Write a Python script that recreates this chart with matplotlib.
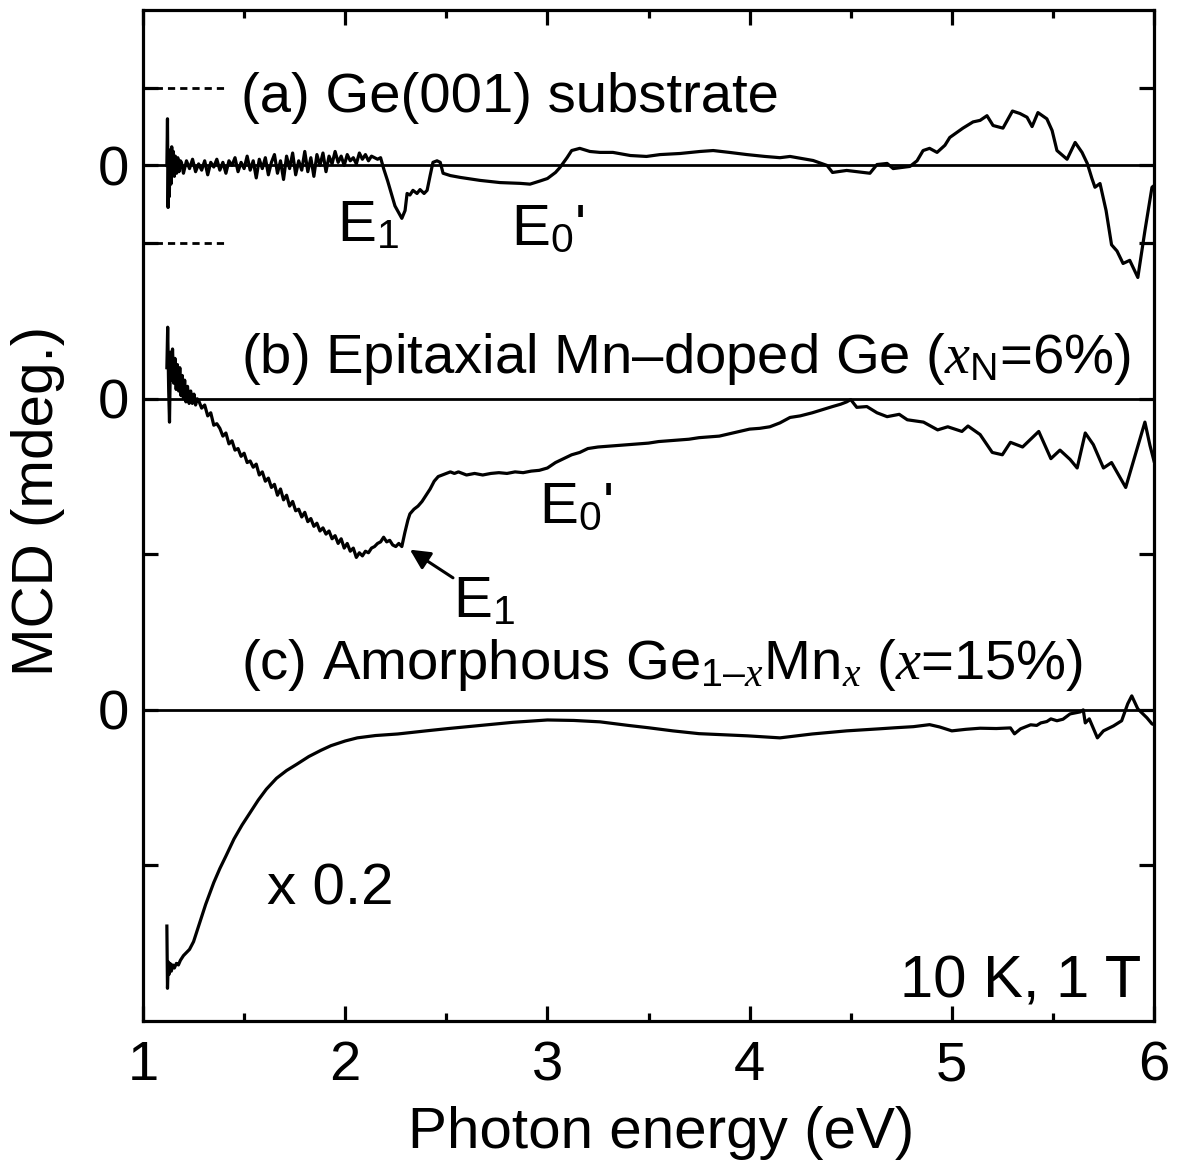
import matplotlib
matplotlib.use('Agg')
import matplotlib.pyplot as plt

plt.rcParams['font.family'] = ['Liberation Sans', 'DejaVu Sans']
plt.rcParams['mathtext.fontset'] = 'custom'
plt.rcParams['mathtext.rm'] = 'Liberation Sans'
plt.rcParams['mathtext.sf'] = 'Liberation Sans'
plt.rcParams['mathtext.it'] = 'Liberation Serif:italic'
plt.rcParams['mathtext.bf'] = 'Liberation Sans:bold'

# ---------------- data: (photon energy eV, MCD in plot units rel. to zero line) -------------
curve_a = [
    (1.118, 0.00), (1.121, 0.30), (1.124, -0.27), (1.127, 0.04), (1.130, -0.20),
    (1.134, 0.10), (1.138, -0.12), (1.142, 0.12), (1.146, -0.06), (1.150, 0.09),
    (1.155, -0.07), (1.160, 0.06), (1.166, -0.05), (1.172, 0.05), (1.178, -0.04),
    (1.185, 0.03),
    (1.19, 0.02), (1.20, -0.05), (1.215, 0.03), (1.23, -0.02), (1.245, 0.04),
    (1.26, -0.04), (1.275, 0.01), (1.29, -0.03), (1.305, 0.03), (1.32, -0.06),
    (1.335, 0.02), (1.35, -0.01), (1.365, 0.04), (1.38, -0.03), (1.395, 0.02),
    (1.41, -0.05), (1.425, 0.03), (1.44, 0.00), (1.455, 0.05), (1.47, -0.04),
    (1.485, 0.02), (1.50, -0.02), (1.515, 0.06), (1.53, -0.03), (1.545, 0.03),
    (1.56, -0.08), (1.575, 0.04), (1.59, -0.02), (1.605, 0.05), (1.62, -0.06),
    (1.635, 0.02), (1.65, 0.07), (1.665, -0.05), (1.68, 0.03), (1.695, -0.09),
    (1.71, 0.06), (1.725, -0.02), (1.74, 0.08), (1.755, -0.06), (1.77, 0.03),
    (1.785, -0.03), (1.80, 0.09), (1.815, -0.04), (1.83, 0.05), (1.845, -0.07),
    (1.86, 0.07), (1.875, 0.00), (1.89, 0.08), (1.905, -0.04), (1.92, 0.06),
    (1.935, 0.01), (1.95, 0.09), (1.965, 0.02), (1.98, 0.06), (1.995, 0.00),
    (2.01, 0.07), (2.025, 0.03), (2.04, 0.05), (2.055, 0.01), (2.07, 0.08),
    (2.085, 0.04), (2.10, 0.07), (2.115, 0.03), (2.13, 0.06), (2.145, 0.05),
    (2.16, 0.04), (2.175, 0.05),
    (2.19, -0.02), (2.21, -0.10), (2.246, -0.26), (2.28, -0.34), (2.296, -0.29),
    (2.306, -0.18), (2.32, -0.19), (2.335, -0.16), (2.355, -0.18), (2.37, -0.155),
    (2.39, -0.18), (2.405, -0.16), (2.42, -0.065), (2.434, 0.02), (2.454, 0.03),
    (2.47, 0.02), (2.484, -0.05), (2.52, -0.065), (2.57, -0.077), (2.667, -0.096),
    (2.766, -0.11), (2.865, -0.115), (2.914, -0.12), (2.963, -0.10), (3.00, -0.084),
    (3.04, -0.045), (3.062, -0.013), (3.097, 0.05), (3.12, 0.096), (3.16, 0.11),
    (3.21, 0.09), (3.26, 0.084), (3.324, 0.084), (3.41, 0.064), (3.49, 0.058),
    (3.557, 0.07), (3.656, 0.077), (3.755, 0.09), (3.82, 0.096), (3.90, 0.084),
    (3.987, 0.07), (4.076, 0.058), (4.15, 0.05), (4.20, 0.058), (4.314, 0.032),
    (4.383, 0.0), (4.41, -0.045), (4.48, -0.032), (4.595, -0.05), (4.63, 0.006),
    (4.68, 0.013), (4.71, -0.02), (4.793, -0.006), (4.828, 0.03), (4.858, 0.096),
    (4.89, 0.11), (4.927, 0.084), (4.966, 0.13), (4.99, 0.18), (5.055, 0.24),
    (5.105, 0.28), (5.14, 0.29), (5.174, 0.32), (5.204, 0.257), (5.253, 0.24),
    (5.30, 0.35), (5.337, 0.334), (5.372, 0.31), (5.397, 0.25), (5.426, 0.34),
    (5.47, 0.30), (5.496, 0.225), (5.52, 0.096), (5.57, 0.04), (5.61, 0.148),
    (5.644, 0.084), (5.67, 0.013), (5.693, -0.084), (5.708, -0.14), (5.733, -0.116),
    (5.763, -0.29), (5.79, -0.51), (5.817, -0.55), (5.847, -0.63), (5.88, -0.61),
    (5.92, -0.72), (5.955, -0.42), (5.99, -0.14), (6.00, -0.13),
]

curve_b = [
    (1.118, 0.20), (1.122, 0.46), (1.127, 0.05), (1.131, -0.15), (1.136, 0.30),
    (1.141, 0.12), (1.146, 0.32), (1.152, 0.10), (1.158, 0.26), (1.164, 0.06),
    (1.170, 0.22), (1.176, 0.05), (1.182, 0.20), (1.188, 0.02), (1.194, 0.15),
    (1.200, 0.00), (1.206, 0.12), (1.212, -0.02), (1.220, 0.08), (1.228, -0.03),
    (1.236, 0.05), (1.244, -0.03), (1.252, 0.03), (1.260, -0.04), (1.268, 0.00),
    (1.275, -0.01), (1.29, -0.06), (1.305, -0.04), (1.32, -0.11), (1.335, -0.09),
    (1.35, -0.17), (1.365, -0.16), (1.38, -0.19), (1.395, -0.24), (1.41, -0.22),
    (1.425, -0.29), (1.44, -0.27), (1.455, -0.33), (1.47, -0.32), (1.485, -0.37),
    (1.50, -0.35), (1.515, -0.41), (1.53, -0.40), (1.545, -0.44), (1.56, -0.42),
    (1.575, -0.49), (1.59, -0.47), (1.605, -0.53), (1.62, -0.51), (1.635, -0.57),
    (1.65, -0.55), (1.665, -0.62), (1.68, -0.58), (1.695, -0.65), (1.71, -0.62),
    (1.725, -0.69), (1.74, -0.66), (1.755, -0.72), (1.77, -0.71), (1.785, -0.76),
    (1.80, -0.73), (1.815, -0.79), (1.83, -0.77), (1.845, -0.82), (1.86, -0.80),
    (1.875, -0.85), (1.89, -0.83), (1.905, -0.87), (1.92, -0.85), (1.935, -0.90),
    (1.95, -0.88), (1.965, -0.93), (1.98, -0.90), (1.995, -0.96), (2.01, -0.93),
    (2.025, -0.98), (2.04, -0.96), (2.055, -1.02), (2.07, -0.99), (2.085, -1.01),
    (2.10, -0.98), (2.115, -0.99), (2.13, -0.96), (2.145, -0.95), (2.16, -0.93),
    (2.175, -0.92), (2.19, -0.89), (2.205, -0.92), (2.22, -0.91), (2.235, -0.94),
    (2.25, -0.95), (2.265, -0.93), (2.28, -0.95), (2.295, -0.86), (2.31, -0.78),
    (2.32, -0.74), (2.34, -0.71), (2.36, -0.69), (2.38, -0.66), (2.40, -0.62),
    (2.42, -0.58), (2.44, -0.53), (2.46, -0.50), (2.48, -0.49), (2.50, -0.48),
    (2.52, -0.47), (2.54, -0.48), (2.56, -0.47), (2.60, -0.49), (2.64, -0.48),
    (2.68, -0.49), (2.72, -0.48), (2.76, -0.475), (2.80, -0.48), (2.84, -0.47),
    (2.88, -0.475), (2.92, -0.465), (2.96, -0.46), (3.00, -0.445), (3.04, -0.41),
    (3.08, -0.385), (3.12, -0.36), (3.16, -0.345), (3.20, -0.32), (3.25, -0.31),
    (3.30, -0.305), (3.35, -0.30), (3.40, -0.295), (3.45, -0.29), (3.50, -0.285),
    (3.55, -0.275), (3.60, -0.27), (3.65, -0.265), (3.70, -0.26), (3.75, -0.25),
    (3.80, -0.245), (3.85, -0.24), (3.90, -0.225), (3.95, -0.21), (4.00, -0.195),
    (4.05, -0.19), (4.10, -0.18), (4.15, -0.155), (4.20, -0.12), (4.25, -0.11),
    (4.31, -0.09), (4.36, -0.07), (4.41, -0.05), (4.45, -0.035), (4.48, -0.02),
    (4.50, -0.005), (4.53, -0.055), (4.58, -0.05), (4.63, -0.09), (4.68, -0.115),
    (4.74, -0.10), (4.78, -0.135), (4.86, -0.15), (4.93, -0.20), (4.98, -0.18),
    (5.05, -0.21), (5.08, -0.175), (5.14, -0.23), (5.20, -0.345), (5.25, -0.36),
    (5.29, -0.28), (5.35, -0.31), (5.43, -0.21), (5.49, -0.385), (5.535, -0.33),
    (5.585, -0.39), (5.62, -0.445), (5.66, -0.22), (5.70, -0.295), (5.75, -0.445),
    (5.79, -0.41), (5.86, -0.57), (5.91, -0.35), (5.955, -0.15), (5.98, -0.30),
    (6.00, -0.40),
]

# curve (c) is displayed multiplied by 0.2
curve_c = [
    (1.118, -1.39), (1.121, -1.79), (1.125, -1.62), (1.129, -1.70), (1.134, -1.63),
    (1.140, -1.68), (1.147, -1.64), (1.155, -1.66), (1.165, -1.63), (1.175, -1.64),
    (1.185, -1.61), (1.20, -1.58), (1.215, -1.56), (1.23, -1.54), (1.25, -1.49),
    (1.27, -1.41), (1.29, -1.33), (1.31, -1.25), (1.33, -1.18), (1.35, -1.11),
    (1.38, -1.02), (1.41, -0.94), (1.45, -0.83), (1.49, -0.74), (1.53, -0.66),
    (1.57, -0.58), (1.61, -0.51), (1.66, -0.44), (1.71, -0.39), (1.76, -0.35),
    (1.82, -0.30), (1.88, -0.26), (1.93, -0.23), (2.00, -0.20), (2.06, -0.18),
    (2.15, -0.165), (2.26, -0.155), (2.40, -0.135), (2.51, -0.12), (2.67, -0.10),
    (2.83, -0.08), (3.00, -0.065), (3.13, -0.068), (3.26, -0.077), (3.40, -0.10),
    (3.50, -0.115), (3.62, -0.135), (3.75, -0.153), (3.87, -0.16), (3.99, -0.167),
    (4.15, -0.18), (4.31, -0.155), (4.48, -0.135), (4.64, -0.122), (4.72, -0.115),
    (4.81, -0.108), (4.89, -0.095), (4.94, -0.11), (5.00, -0.135), (5.07, -0.125),
    (5.14, -0.118), (5.22, -0.12), (5.29, -0.116), (5.31, -0.154), (5.34, -0.122),
    (5.39, -0.096), (5.42, -0.10), (5.44, -0.084), (5.47, -0.075), (5.49, -0.058),
    (5.52, -0.07), (5.55, -0.06), (5.585, -0.026), (5.635, -0.013), (5.65, 0.00),
    (5.66, -0.084), (5.68, -0.058), (5.72, -0.18), (5.75, -0.135), (5.80, -0.103),
    (5.84, -0.07), (5.87, 0.039), (5.89, 0.09), (5.92, 0.006), (5.965, -0.051),
    (5.99, -0.09), (6.00, -0.095),
]

x_ticks = [1, 2, 3, 4, 5, 6]
x_minor = [1.5, 2.5, 3.5, 4.5, 5.5]

# ---------------- layout constants ----------------
ZERO_A, ZERO_B, ZERO_C = 5.5, 4.0, 2.0
FS = 40.5
LW = 2.3

fig = plt.figure(figsize=(11.79, 11.68), dpi=100)
ax = fig.add_axes([0.1213, 0.1259, 0.8575, 0.8656])
ax.set_xlim(1, 6)
ax.set_ylim(0, 6.5)

for z in (ZERO_A, ZERO_B, ZERO_C):
    ax.axhline(z, color='k', lw=2.0, zorder=1)

for curve, zero in ((curve_a, ZERO_A), (curve_b, ZERO_B), (curve_c, ZERO_C)):
    ex = [p[0] for p in curve]
    ey = [zero + p[1] for p in curve]
    ax.plot(ex, ey, color='k', lw=LW, zorder=3, solid_joinstyle='round')

# scale marks for (a)
for lev in (ZERO_A - 0.5, ZERO_A + 0.5):
    ax.plot([1.0, 1.41], [lev, lev], color='k', lw=2.0, ls=(0, (2.6, 1.8)), zorder=2)

ax.set_xticks(x_ticks)
ax.set_xticklabels([str(t) for t in x_ticks])
ax.set_xticks(x_minor, minor=True)
ax.set_yticks([ZERO_C, ZERO_B, ZERO_A])
ax.set_yticklabels(['0', '0', '0'])
ax.set_yticks([1, 3, 5, 6], minor=True)

ax.tick_params(which='both', direction='in', top=True, right=True, width=2.3,
               labelsize=FS)
ax.tick_params(which='major', length=11)
ax.tick_params(axis='x', which='minor', length=6)
ax.tick_params(axis='y', which='minor', length=11)
ax.tick_params(axis='x', which='major', pad=14)
ax.tick_params(axis='y', which='major', pad=10)
for s in ax.spines.values():
    s.set_linewidth(2.3)

ax.set_xlabel('Photon energy (eV)', fontsize=42)
ax.xaxis.set_label_coords(0.512, -0.084)
ax.set_ylabel('MCD (mdeg.)', fontsize=42)
ax.yaxis.set_label_coords(-0.077, 0.514)

ax.text(1.485, 5.846, '(a) Ge(001) substrate', fontsize=FS, va='baseline')
ax.text(1.485, 4.167, '(b) Epitaxial Mn\u2013doped Ge ($x_{\\rm N}$=6%)',
        fontsize=FS, va='baseline')
ax.text(1.485, 2.20, '(c) Amorphous Ge$_{\\mathrm{1\u2013}x}$Mn$_{x}$ ($x$=15%)',
        fontsize=FS, va='baseline')

ax.text(1.96, 5.01, 'E$_1$', fontsize=42, va='baseline')
ax.text(2.82, 4.99, "E$_0$'", fontsize=42, va='baseline')
ax.text(2.958, 3.20, "E$_0$'", fontsize=42, va='baseline')
ax.text(2.533, 2.598, 'E$_1$', fontsize=42, va='baseline')
ax.annotate('', xy=(2.32, 3.03), xytext=(2.533, 2.849),
            arrowprops=dict(arrowstyle='-|>', color='k', lw=2.2,
                            mutation_scale=30, shrinkA=0, shrinkB=0))

ax.text(1.613, 0.746, 'x 0.2', fontsize=42, va='baseline')
ax.text(5.935, 0.148, '10 K, 1 T', fontsize=43, va='baseline', ha='right')

fig.savefig('out.png', dpi=100)
